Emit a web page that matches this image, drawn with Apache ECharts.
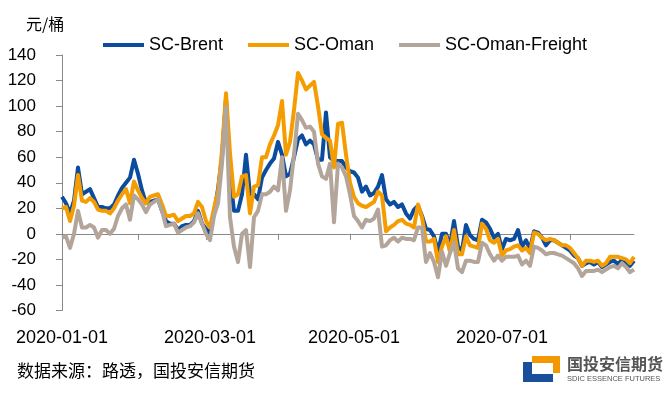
<!DOCTYPE html>
<html><head><meta charset="utf-8">
<script src="https://cdn.jsdelivr.net/npm/echarts@6/dist/echarts.min.js"></script>
<style>html,body{margin:0;padding:0;background:#fff}#c{width:665px;height:393px}</style>
</head><body><div id="c"></div>
<script>
const seriesNames = ['SC-Brent', 'SC-Oman', 'SC-Oman-Freight'];

const scBrent = [29,24,16,26,52,31,33,35,28,21,
 21,20,20,23,30,36,40,44,58,47,
 34,24,25,26,27,18,10,8,8,3,
 6,7,7,10,18,8,4,0,16,35,
 60,106,45,18,18,31,62,31,31,27,
 44,50,55,59,72,62,45,47,60,74,
 77,70,73,70,58,58,95,60,57,57,
 57,52,49,48,44,33,37,30,32,37,
 46,27,23,25,21,23,16,12,19,22,
 14,4,3,-2,-14,0,0,-9,10,-10,
 -13,7,-1,-4,-5,11,9,4,-3,0,
 -12,-4,-5,-4,3,-10,-5,-12,2,1,
 -3,-9,-5,-5,-7,-9,-11,-13,-17,-19,
 -25,-23,-22,-24,-22,-26,-24,-22,-21,-24,
 -20,-22,-25,-21];

const scOman = [20,21,10,22,46,26,25,28,25,19,
 18,18,16,20,26,31,35,24,41,34,
 28,24,29,30,31,23,14,14,15,10,
 12,14,14,16,25,21,10,5,20,33,
 65,110,63,29,31,45,46,16,37,38,
 60,60,70,77,85,104,62,72,97,126,
 120,113,116,119,100,78,75,73,52,86,
 87,62,40,29,24,22,21,23,25,33,
 30,2,5,7,10,11,8,7,5,23,
 13,-6,-6,-4,-22,-10,-2,-14,3,-16,
 -16,-2,-9,-10,-11,8,4,-5,-7,-4,
 -17,-13,-12,-10,-9,-13,-11,-15,1,0,
 -3,-5,-4,-5,-7,-9,-9,-11,-15,-19,
 -25,-21,-21,-22,-21,-25,-23,-18,-18,-18,
 -19,-20,-23,-18];

const scOmanFreight = [-3,-2,-11,0,18,5,5,7,5,-3,
 3,3,0,4,14,20,23,11,30,27,
 23,17,23,25,27,18,6,7,8,1,
 3,5,6,9,16,8,0,-5,14,24,
 55,99,13,-10,-22,0,3,-26,13,18,
 31,31,33,37,34,60,18,34,62,94,
 89,83,84,80,55,45,43,55,9,55,
 52,45,31,14,10,5,11,10,12,19,
 -10,-9,-5,-3,-6,-3,-4,-4,-5,5,
 5,-22,-15,-22,-34,-14,-25,-15,-7,-27,
 -30,-21,-21,-22,-22,-7,-9,-16,-21,-17,
 -21,-18,-18,-18,-17,-24,-21,-25,-10,-11,
 -13,-16,-15,-15,-16,-17,-19,-21,-23,-27,
 -33,-29,-29,-29,-28,-30,-28,-26,-25,-27,
 -23,-26,-30,-28];

const xTickLabels = ['2020-01-01', '2020-03-01', '2020-05-01', '2020-07-01'];
const xLabelIndex = [0, 37, 73, 110];
const xTickIndex = [19, 36, 54, 72, 91, 109, 127];
const yMin = -60, yMax = 140, yStep = 20;
const unitLabel = '元/桶';
const sourceText = '数据来源：路透，国投安信期货';

const categories = scBrent.map((_, i) => String(i));
const colors = ['#0B4C9E', '#F59C00', '#B4A59B'];
const font = '"Liberation Sans", Arial, sans-serif';
const cjk = '"Noto Sans CJK SC", sans-serif';
const axisGray = '#898989';

const chart = echarts.init(document.getElementById('c'), null, {renderer: 'canvas'});
chart.setOption({
  animation: false,
  color: colors,
  grid: {left: 62, right: 31, top: 55, bottom: 82.5},
  legend: {
    left: 103, top: 36, padding: 0, itemGap: 25, itemWidth: 41, itemHeight: 4,
    icon: 'rect', data: seriesNames,
    textStyle: {fontSize: 18, color: '#000', fontFamily: font}
  },
  xAxis: [
    {
      type: 'category', data: categories, boundaryGap: false, position: 'bottom',
      axisLine: {show: false, onZero: false}, axisTick: {show: false}, splitLine: {show: false},
      axisLabel: {
        interval: (i) => xLabelIndex.includes(i),
        formatter: (v, i) => { const k = xLabelIndex.indexOf(i); return k >= 0 ? xTickLabels[k] : ''; },
        fontSize: 18, color: '#000', margin: 19, fontFamily: font
      }
    },
    {
      type: 'category', data: categories, boundaryGap: false, position: 'top',
      axisLine: {show: true, onZero: true, lineStyle: {color: axisGray, width: 1}},
      axisTick: {show: true, inside: true, length: 6, interval: (i) => xTickIndex.includes(i), lineStyle: {color: axisGray}},
      axisLabel: {show: false}, splitLine: {show: false}
    }
  ],
  yAxis: {
    type: 'value', min: yMin, max: yMax, interval: yStep,
    axisLine: {show: true, lineStyle: {color: axisGray}},
    axisTick: {show: true, length: 6, lineStyle: {color: axisGray}},
    splitLine: {show: false},
    axisLabel: {fontSize: 17, color: '#000', margin: 26, fontFamily: font}
  },
  series: [scBrent, scOman, scOmanFreight].map((d, k) => ({
    name: seriesNames[k], type: 'line', data: d, xAxisIndex: 0,
    symbol: 'none', showSymbol: false,
    lineStyle: {width: 4, color: colors[k], join: 'round'},
    emphasis: {disabled: true}
  })),
  graphic: [
    {type: 'text', left: 26, top: 16, style: {text: unitLabel, fontSize: 16, fill: '#000', fontFamily: cjk}},
    {type: 'text', left: 17, top: 362, style: {text: sourceText, fontSize: 17, fill: '#000', fontFamily: cjk}},
    {type: 'rect', shape: {x: 532, y: 356, width: 28, height: 7}, style: {fill: '#F39800'}},
    {type: 'rect', shape: {x: 553, y: 356, width: 7, height: 17}, style: {fill: '#F39800'}},
    {type: 'rect', shape: {x: 523, y: 362, width: 9, height: 20}, style: {fill: '#1A4F9C'}},
    {type: 'rect', shape: {x: 523, y: 374, width: 30, height: 8}, style: {fill: '#1A4F9C'}},
    {type: 'text', left: 567, top: 356, style: {text: '国投安信期货', fontSize: 16, fontWeight: 'bold', fill: '#555', fontFamily: cjk}},
    {type: 'text', left: 567, top: 375, style: {text: 'SDIC ESSENCE FUTURES', fontSize: 7.5, fill: '#555', fontFamily: font}}
  ]
});
</script></body></html>
